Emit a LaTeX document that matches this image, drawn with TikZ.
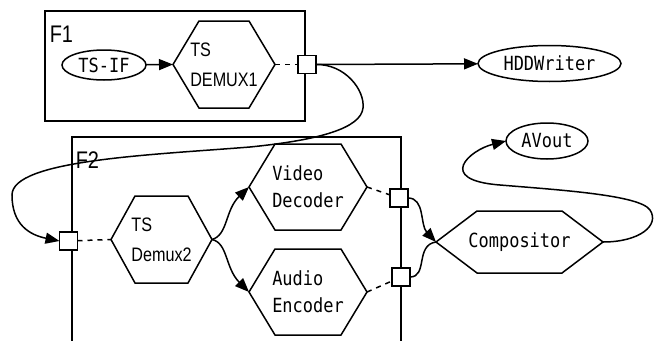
\documentclass[tikz,border=0pt]{standalone}
\usepackage{fontspec}
\setmainfont{Liberation Sans}[FakeStretch=0.83]
\newfontfamily\gothfont{DejaVu Sans Mono}[FakeStretch=0.87]
\usetikzlibrary{arrows.meta,shapes.geometric,positioning}

\newcommand{\plainlbl}{\fontsize{19.5}{30}\selectfont}
\newcommand{\monolbl}{\gothfont\fontsize{19.5}{27}\selectfont}
\newcommand{\framelbl}{\fontsize{24}{24}\selectfont}

\begin{document}
\begin{tikzpicture}[x=1pt, y=-1pt, line width=1.5pt,
  frame/.style={draw, outer sep=0, inner sep=0},
  hexnode/.style={outer sep=0, inner sep=0, align=left, font=\plainlbl},
  blob/.style={draw, ellipse, outer sep=0, inner sep=0, font=\monolbl},
  port/.style={draw, fill=white, outer sep=0, inner sep=0, minimum size=18},
  flow/.style={-{Triangle[length=14pt,width=11pt]}},
  link/.style={dash pattern=on 5pt off 5pt}]
\useasboundingbox (0,0) rectangle (658,340);

% frames
\node[frame, minimum width=260, minimum height=110] (f1) at (175,66) {};
\node[frame, minimum width=329, minimum height=230, anchor=north west] (f2) at (72,137) {};
\node[anchor=base west, font=\framelbl, inner sep=0] (f1lbl) at (49,42) {F1};
\node[anchor=base west, font=\framelbl, inner sep=0] (f2lbl) at (75,168) {F2};

% processes
\node[blob, minimum width=84, minimum height=30] (tsif) at (104,65) {TS-IF};
\node[hexnode, minimum width=102, minimum height=87] (dmx1) at (224,64.5) {TS\\DEMUX1};
\node[hexnode, minimum width=101, minimum height=87] (dmx2) at (161.5,239.5) {TS\\Demux2};
\node[hexnode, font=\monolbl, minimum width=118, minimum height=86] (vdec) at (308,187) {Video\\Decoder};
\node[hexnode, font=\monolbl, minimum width=118, minimum height=86] (aenc) at (308,292) {Audio\\Encoder};
\node[hexnode, font=\monolbl, minimum width=167, minimum height=62] (comp) at (519.5,242) {Compositor};
\node[blob, minimum width=143, minimum height=36] (hddw) at (549.5,63.5) {HDDWriter};
\node[blob, minimum width=82, minimum height=36] (avout) at (547,141) {AVout};

% ports
\node[port] (p1) at (307,64.5) {};
\node[port] (p2) at (68.5,241) {};
\node[port] (p3) at (399,198) {};
\node[port] (p4) at (401,277) {};

% hexagon outlines
\foreach \n/\d in {dmx1/26pt, dmx2/24pt, vdec/26pt, aenc/26pt, comp/41pt}
  \draw (\n.west) -- ([xshift=\d]\n.north west) -- ([xshift=-\d]\n.north east)
    -- (\n.east) -- ([xshift=-\d]\n.south east) -- ([xshift=\d]\n.south west) -- cycle;

% connectors
\draw[flow] (tsif) -- (dmx1.west);
\draw[link] (dmx1.east) -- (p1);
\draw[flow] (p1.east) -- (hddw);
\draw[flow] (p1.east) .. controls (345,64) and (365,90) .. (363,108)
  .. controls (361,128) and (320,140) .. (250,147)
  .. controls (150,155) and (12,160) .. (12,195)
  .. controls (12,225) and (30,235) .. (p2.west);
\draw[link] (p2) -- (dmx2.west);
\draw[flow] (dmx2.east) .. controls (228,235) and (225,210) .. (vdec.west);
\draw[flow] (dmx2.east) .. controls (228,243) and (225,268) .. (aenc.west);
\draw[link] (vdec.east) -- (p3);
\draw[link] (aenc.east) -- (p4);
\draw[flow] (p3.east) .. controls (425,198) and (420,225) .. (comp.west);
\draw (p4.east) .. controls (428,277) and (415,245) .. (comp.west);
\draw[flow] (comp.east) .. controls (640,242) and (660,225) .. (650,210)
  .. controls (640,195) and (560,190) .. (500,185)
  .. controls (435,180) and (470,150) .. (avout.west);
\end{tikzpicture}
\end{document}
